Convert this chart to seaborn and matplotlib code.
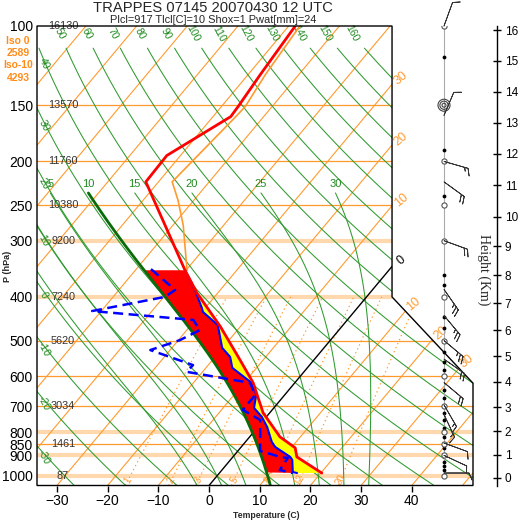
import numpy as np
import matplotlib
matplotlib.use("Agg")
import matplotlib.pyplot as plt
import seaborn as sns
from matplotlib.patches import Polygon
from matplotlib.ticker import NullLocator, NullFormatter

sns.set_theme(style="white")
plt.rcParams["font.family"] = ["Liberation Sans", "DejaVu Sans"]

# --- sounding values (hPa, deg C) ---
t_pres = [100, 128, 151, 159, 194, 222, 349, 392, 466, 552, 621, 724, 819, 866, 907, 980, 985]
t_temp = [-58.7, -57.6, -56.7, -56.5, -62.7, -62.5, -40.2, -34.1, -23.9, -14.6, -8.2, -1.3, 6.0, 10.8, 12.6, 19.7, 20.2]

td_pres = [347, 386, 400, 430, 450, 474, 499, 525, 567, 587, 621, 661, 713, 751, 880, 907, 912, 970, 985]
td_temp = [-47.1, -38.9, -39.8, -51.8, -30.4, -27.4, -29.7, -33.9, -23.0, -23.1, -8.8, -5.8, -5.8, -0.7, 4.4, 9.3, 11.0, 11.4, 14.5]

tw_pres = [349, 386, 423, 432, 462, 519, 544, 575, 618, 634, 661, 706, 739, 778, 840, 862, 907, 921, 980, 985]
tw_temp = [-40.2, -35.0, -30.7, -29.8, -24.7, -20.1, -17.0, -14.8, -8.9, -7.4, -5.6, -3.9, -0.9, 1.8, 5.2, 6.7, 11.3, 12.2, 14.3, 15.3]

# orange upper curve
o_pres = [100, 128, 151, 159, 222, 244, 277, 349]
o_temp = [-57.8, -56.6, -55.3, -55.5, -57.3, -53.1, -48.0, -39.8]

# geopotential heights at standard levels
h_pres = [1000, 850, 700, 500, 400, 300, 250, 200, 150, 100]
h_z = [87, 1461, 3034, 5620, 7240, 9200, 10380, 11760, 13570, 16130]

# winds (direction deg, speed kt)
w_pres = [100, 158, 200, 222, 300, 385, 440, 500, 550, 620, 695, 730, 845, 900, 985]
w_dir = [20, 23, 106, 126, 110, 145, 140, 130, 125, 130, 150, 155, 110, 115, 90]
w_spd = [10, 10, 15, 20, 20, 25, 25, 25, 20, 20, 15, 15, 10, 10, 10]
dot_pres = [117, 189, 239, 357, 376, 443, 469, 530, 558, 581, 644, 671, 724, 751, 782, 819, 867, 931, 950, 970]
std_levels = [100, 200, 250, 300, 400, 500, 600, 700, 800, 850, 900, 1000]

thin_isobars = [150, 200, 250, 500, 600, 700, 850]
thick_isobars = [300, 400, 800, 900, 1000]
dry_top = [50, 60, 70, 80, 90, 100, 110, 120, 130, 140, 150, 160]
dry_left = [40, 30, 20, 10, 0, -10, -20, -30]
moist_thw = [-5, 0, 5, 10, 15, 20, 25, 30]
moist_lab = [5, 10, 15, 20, 25, 30]
mix_ratio = [1, 2, 3, 5, 8, 12, 20]

ORANGE = "#ff9a2e"
LIGHT = "#ffd9ad"
GREEN = "#2f9a2f"
GTXT = "#1f8a1f"

K = 32.2
P0 = 1050.0
XL, XR = -33.93, 52.07


def skx(t, p):
    return np.asarray(t, float) + K * np.log(P0 / np.asarray(p, float))


def lapse(t, lnp):
    p = np.exp(lnp)
    es = 6.112 * np.exp(17.67 * (t - 273.15) / (t - 29.65))
    rs = 0.622 * es / (p - es)
    return (287.04 * t + 2.501e6 * rs) / (1005.7 + 2.501e6 ** 2 * rs * 0.622 / (287.04 * t ** 2))


def integrate(t0, l0, l1, n):
    lnps = np.linspace(l0, l1, n)
    out = [t0]
    for i in range(n - 1):
        h = lnps[i + 1] - lnps[i]
        t, l = out[-1], lnps[i]
        k1 = lapse(t, l)
        k2 = lapse(t + h / 2 * k1, l + h / 2)
        k3 = lapse(t + h / 2 * k2, l + h / 2)
        k4 = lapse(t + h * k3, l + h)
        out.append(t + h / 6 * (k1 + 2 * k2 + 2 * k3 + k4))
    return lnps, np.array(out)


def moist(thw, ptop=235.0):
    t0 = thw + 273.15
    ld, td = integrate(t0, np.log(1000), np.log(1050), 15)
    lu, tu = integrate(t0, np.log(1000), np.log(ptop), 400)
    lnp = np.concatenate([ld[::-1], lu[1:]])
    tt = np.concatenate([td[::-1], tu[1:]]) - 273.15
    return np.exp(lnp), tt


W = H = 521
fig = plt.figure(figsize=(W / 100, H / 100), dpi=100)
pos = [37 / W, (H - 485.5) / H, 436 / W, (485.5 - 26) / H]
ax = fig.add_axes(pos)
ax.set_yscale("log")
ax.set_ylim(1050, 100)
ax.set_xlim(XL, XR)
for s in ax.spines.values():
    s.set_visible(False)

frame = Polygon([(XL, 1050), (XL, 100), (36.1, 100), (36.1, 400), (XR, 622), (XR, 1050)],
                closed=True, fill=False, ec="black", lw=1, transform=ax.transData,
                zorder=10, clip_on=False)
ax.add_patch(frame)


def bg(x, y, **kw):
    ln, = ax.plot(x, y, **kw)
    ln.set_clip_path(frame)
    return ln


# isobars
for p in thick_isobars:
    bg([XL, XR], [p, p], color=LIGHT, lw=3, zorder=1)
for p in thin_isobars:
    bg([XL, XR], [p, p], color=ORANGE, lw=0.9, zorder=1.2)

# isotherms
pp = np.array([1050, 100])
for t in range(-110, 60, 10):
    if t == 0:
        bg(skx([0, 0], pp), pp, color="black", lw=1, zorder=1.5)
    else:
        bg(skx([t, t], pp), pp, color=ORANGE, lw=0.8, zorder=1.1)

# dry adiabats
pg = np.geomspace(1050, 112, 120)
for th in range(-30, 170, 10):
    tt = (th + 273.15) * (pg / 1000) ** 0.2857 - 273.15
    bg(skx(tt, pg), pg, color=GREEN, lw=0.75, zorder=1.3)
for th in dry_top:
    tt = (th + 273.15) * (104 / 1000) ** 0.2857 - 273.15
    ax.text(skx(tt, 104), 104, str(th), color=GTXT, fontsize=7.5, rotation=-62,
            ha="center", va="center")
pf = np.geomspace(1050, 100, 2000)
for th in dry_left:
    xx = skx((th + 273.15) * (pf / 1000) ** 0.2857 - 273.15, pf)
    pl = np.interp(-32.6, xx[::-1], pf[::-1])
    ax.text(-32.6, pl * 1.02, str(th), color=GTXT, fontsize=7.5, rotation=-62,
            ha="center", va="center")

# moist adiabats
for thw in moist_thw:
    mp, mt = moist(thw)
    bg(skx(mt, mp), mp, color=GREEN, lw=0.75, zorder=1.3)
    if thw in moist_lab:
        ax.text(skx(mt[-1], mp[-1]), 224, str(thw), color=GTXT, fontsize=8,
                ha="center", va="center")

# mixing ratio lines
pm = np.geomspace(1050, 400, 60)
for w in mix_ratio:
    e = w * pm / (622 + w)
    a = np.log(e / 6.112)
    td = 243.5 * a / (17.67 - a)
    bg(skx(td, pm), pm, color=ORANGE, lw=0.9, ls=(0, (1, 2.5)), zorder=1.2)
    e1 = w * 1022 / (622 + w)
    a1 = np.log(e1 / 6.112)
    ax.text(skx(243.5 * a1 / (17.67 - a1), 1022), 1022, str(w), color=ORANGE,
            fontsize=7, rotation=60, ha="center", va="center", zorder=1.4)

# isotherm labels
for t in [-30, -20, -10, 0]:
    ph = P0 / np.exp((36.1 - t) / K)
    ax.text(37.9, ph * np.exp(-6 / 195.4), str(abs(t)), color="black" if t == 0 else ORANGE,
            fontsize=9, rotation=40, ha="center", va="center")
ld = np.linspace(np.log(400), np.log(622), 400)
xd = 36.1 + (ld - np.log(400)) / (np.log(622) - np.log(400)) * (XR - 36.1)
for t in [10, 20, 30]:
    xi = skx(t, np.exp(ld))
    i = np.argmin(np.abs(xi - xd))
    ax.text(xd[i] + 1.6, np.exp(ld[i]) * np.exp(-7 / 195.4), str(t), color=ORANGE,
            fontsize=9, rotation=40, ha="center", va="center")

# CAPE-like fills
mp, mt = moist(10)
m = (mp <= 985) & (mp >= 349)
tp = np.array(t_pres)
tt = np.array(t_temp)
k = tp >= 349
ax.fill(np.concatenate([skx(tt[k], tp[k]), skx(tw_temp, tw_pres)[::-1]]),
        np.concatenate([tp[k], np.array(tw_pres)[::-1]]), color="#ffff00", lw=0, zorder=2)
ax.fill(np.concatenate([skx(mt[m], mp[m]), skx(tw_temp, tw_pres)]),
        np.concatenate([mp[m], tw_pres]), color="#ff0000", lw=0, zorder=2.1)
ax.plot(skx(mt, mp), mp, color="#0b6b0b", lw=2, zorder=3)

# profiles
sns.lineplot(x=skx(o_temp, o_pres), y=o_pres, sort=False, estimator=None, color=ORANGE,
             lw=1.2, ax=ax, zorder=3)
sns.lineplot(x=skx(tw_temp, tw_pres), y=tw_pres, sort=False, estimator=None, color="#0000ff",
             lw=1.5, ax=ax, zorder=4)
sns.lineplot(x=skx(t_temp, t_pres), y=t_pres, sort=False, estimator=None, color="#ff0000",
             lw=2, ax=ax, zorder=5)
sns.lineplot(x=skx(td_temp, td_pres), y=td_pres, sort=False, estimator=None, color="#0000ff",
             lw=1.8, linestyle=(0, (4, 2.2)), ax=ax, zorder=6)

# height labels at the isobars
for p, z in zip(h_pres, h_z):
    ax.text(-28.8, p, str(z), color="#333333", fontsize=7.8, ha="center", va="center", zorder=7)

# axes ticks
levels = [100, 150, 200, 250, 300, 400, 500, 600, 700, 800, 850, 900, 1000]
ax.set_yticks(levels)
ax.set_yticklabels([str(v) for v in levels])
ax.yaxis.set_minor_locator(NullLocator())
ax.yaxis.set_minor_formatter(NullFormatter())
ax.tick_params(axis="y", length=0, pad=3, labelsize=10, colors="black")
ax.set_xticks(range(-30, 41, 10))
ax.tick_params(axis="x", length=4, width=1, direction="out", pad=2, labelsize=10,
               bottom=True, colors="black")
ax.set_xlabel("")
ax.set_ylabel("")

# wind column
ax_w = fig.add_axes(pos, frameon=False)
ax_w.set_xlim(XL, XR)
ax_w.set_ylim(np.log(1050), np.log(100))
ax_w.axis("off")
xw = (444 - 209) / 5.07
ax_w.plot([xw, xw], [np.log(1000), np.log(100)], color="#aaaaaa", lw=0.8, zorder=1)
ax_w.scatter([xw] * len(dot_pres), np.log(dot_pres), s=3, color="black", zorder=3)
ax_w.scatter([xw] * len(std_levels), np.log(std_levels), s=14, facecolors="white",
             edgecolors="#555555", linewidths=0.8, zorder=3)
for s in [75, 35, 8]:
    ax_w.scatter([xw], [np.log(150)], s=s, facecolors="none", edgecolors="#444444",
                 linewidths=0.8, zorder=3)
d = np.radians(w_dir)
u = -np.array(w_spd) * np.sin(d)
v = -np.array(w_spd) * np.cos(d)
ax_w.barbs([xw] * len(w_pres), np.log(w_pres), u, v, length=6, linewidth=0.6,
           sizes=dict(spacing=0.14, height=0.28, width=0.25),
           color="#333333", clip_on=False, zorder=4)

# height axis
ax_h = fig.add_axes([497 / W, pos[1], 0.0001, pos[3]])
ax_h.set_ylim(np.log(1050), np.log(100))
ax_h.set_xticks([])
for s in ["right", "top", "bottom"]:
    ax_h.spines[s].set_visible(False)
ax_h.spines["left"].set_color("black")
ax_h.spines["left"].set_linewidth(1)
km = np.arange(0, 17)
lnp0 = np.log(h_pres)
ticks = np.interp(km * 1000.0, h_z, lnp0)
slope = (lnp0[1] - lnp0[0]) / (h_z[1] - h_z[0])
ticks[km * 1000 < h_z[0]] = lnp0[0] + slope * (km[km * 1000 < h_z[0]] * 1000 - h_z[0])
ax_h.set_yticks(ticks)
ax_h.set_yticklabels([str(v) for v in km])
ax_h.yaxis.set_ticks_position("left")
ax_h.tick_params(axis="y", direction="inout", length=6, width=1, labelleft=False,
                 labelright=True, labelsize=8.5, pad=2.5, colors="black")

# titles and texts
fig.text(213 / W, 1 - 11.7 / H, "TRAPPES 07145 20070430 12 UTC", fontsize=10.6,
         ha="center", va="baseline")
fig.text(213.5 / W, 1 - 23.3 / H, "Plcl=917 Tlcl[C]=10 Shox=1 Pwat[mm]=24", fontsize=7.9,
         ha="center", va="baseline")
for txt, y in [("Iso 0", 41.5), ("2589", 53), ("Iso-10", 65.5), ("4293", 78)]:
    fig.text(18 / W, 1 - y / H, txt, fontsize=7.5, fontweight="bold", color="#ff8c1a",
             ha="center", va="center")
fig.text(8 / W, 1 - 266 / H, "P (hPa)", fontsize=6.5, fontweight="bold", rotation=90,
         ha="center", va="center")
fig.text(266 / W, 1 - 516 / H, "Temperature (C)", fontsize=6.2, fontweight="bold",
         ha="center", va="center")
fig.text(484 / W, 1 - 270 / H, "Height (Km)", fontsize=10, rotation=270,
         family="Liberation Serif", ha="center", va="center")

fig.savefig("out.png", dpi=100, facecolor="white")
